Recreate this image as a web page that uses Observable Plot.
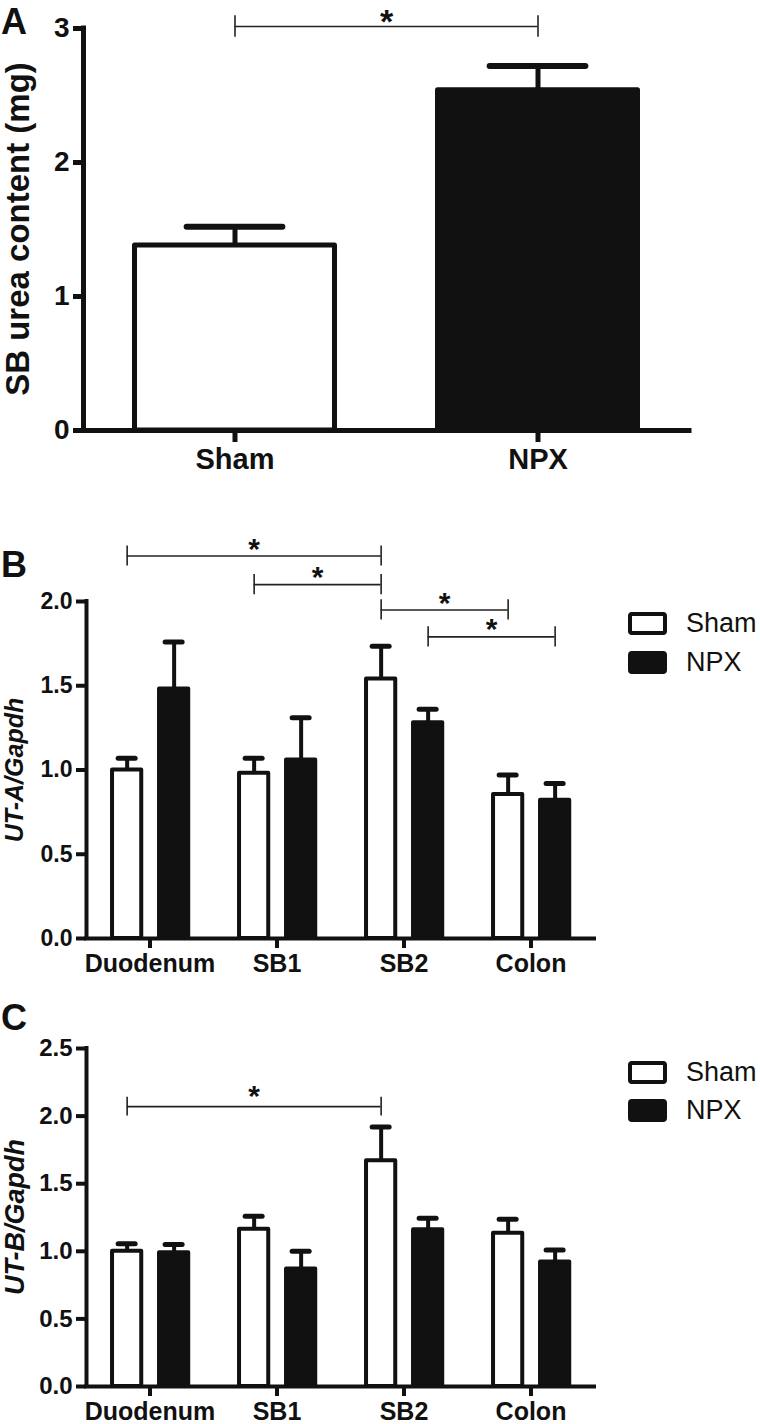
<!DOCTYPE html>
<html>
<head>
<meta charset="utf-8">
<script src="https://cdn.jsdelivr.net/npm/d3@7"></script>
<script src="https://cdn.jsdelivr.net/npm/@observablehq/plot@0.6"></script>
<style>
  body { margin: 0; background: #fff; }
  #fig { position: relative; width: 760px; height: 1424px; overflow: hidden;
         font-family: "Liberation Sans", Arial, sans-serif; color: #111; background: #fff; }
  .panel { position: absolute; left: 0; width: 760px; }
  .letter { position: absolute; left: 1px; font-size: 36px; font-weight: bold; line-height: 1.1; }
  .ylab { position: absolute; font-weight: bold; line-height: 1; white-space: nowrap;
          transform: translate(-50%, -50%) rotate(-90deg); }
  .legend { position: absolute; font-size: 27px; line-height: 1; font-weight: normal; }
  .legend .row { display: flex; align-items: center; gap: 19px; height: 23px; }
  .sw { box-sizing: border-box; width: 39px; height: 23px; border: 4px solid #111; border-radius: 4px; }
</style>
</head>
<body>
<div id="fig">
  <div class="panel" id="pA" style="top:0px"></div>
  <div class="panel" id="pB" style="top:500px"></div>
  <div class="panel" id="pC" style="top:980px"></div>

  <div class="letter" style="top:2px">A</div>
  <div class="letter" style="top:545px">B</div>
  <div class="letter" style="top:998px">C</div>

  <div class="ylab" style="left:17px; top:229px; font-size:33px;">SB urea content (mg)</div>
  <div class="ylab" style="left:14px; top:770px; font-size:25px; font-style:italic;">UT-A/Gapdh</div>
  <div class="ylab" style="left:15px; top:1217px; font-size:27px; font-style:italic;">UT-B/Gapdh</div>

  <div class="legend" id="legB" style="left:628px; top:612px;"></div>
  <div class="legend" id="legC" style="left:628px; top:1061px;"></div>
</div>

<script>
// ---------------- DATA ----------------
// Panel A: SB urea content (mg)
const groupsA = ["Sham", "NPX"];
const ureaMean = [1.38, 2.54];
const ureaErr = [0.14, 0.18];
const yTicksA = [0, 1, 2, 3];
const sigAFrom = ["Sham"];
const sigATo = ["NPX"];
const sigALevel = [3.015];

// Panels B & C: regions x groups
const regions = ["Duodenum", "SB1", "SB2", "Colon"];
const groups = ["Sham", "NPX"];

// B: UT-A/Gapdh
const utaSham = [1.00, 0.98, 1.54, 0.855];
const utaShamErr = [0.07, 0.09, 0.195, 0.115];
const utaNpx = [1.48, 1.06, 1.28, 0.82];
const utaNpxErr = [0.28, 0.25, 0.08, 0.10];
const yTicksB = [0, 0.5, 1.0, 1.5, 2.0];
const utaSigFrom = [["Duodenum", "Sham"], ["SB1", "Sham"], ["SB2", "Sham"], ["SB2", "NPX"]];
const utaSigTo = [["SB2", "Sham"], ["SB2", "Sham"], ["Colon", "Sham"], ["Colon", "NPX"]];
const utaSigLevel = [2.27, 2.10, 1.95, 1.79];

// C: UT-B/Gapdh
const utbSham = [1.00, 1.163, 1.67, 1.134];
const utbShamErr = [0.055, 0.097, 0.25, 0.103];
const utbNpx = [0.99, 0.87, 1.16, 0.92];
const utbNpxErr = [0.06, 0.13, 0.085, 0.09];
const yTicksC = [0, 0.5, 1.0, 1.5, 2.0, 2.5];
const utbSigFrom = [["Duodenum", "Sham"]];
const utbSigTo = [["SB2", "Sham"]];
const utbSigLevel = [2.07];

// ---------------- BUILD ----------------
const FONT = '"Liberation Sans", Arial, sans-serif';
const INK = "#111";
const groupOffset = {Sham: -0.18, NPX: 0.19};

function pos(region, group) { return regions.indexOf(region) + groupOffset[group]; }

function rowsFor(sham, shamErr, npx, npxErr) {
  return regions.flatMap((r, i) => [
    {region: r, group: "Sham", x: pos(r, "Sham"), value: sham[i], err: shamErr[i]},
    {region: r, group: "NPX", x: pos(r, "NPX"), value: npx[i], err: npxErr[i]}
  ]);
}
function sigFor(from, to, level) {
  return level.map((l, i) => {
    const x1 = pos(...from[i]), x2 = pos(...to[i]);
    return {x1, x2, mid: (x1 + x2) / 2, level: l};
  });
}

function panel(cfg) {
  const {rows, sig, cats, xDomain, yDomain, yTicks, yFormat, xTicks,
         hw, capHalf, sw, capW, axisW, tickHalf, starSize, starDy,
         yFont, xFont, yPad, xPad, xTickSize, brW, layout} = cfg;
  return Plot.plot({
    width: 760,
    ...layout,
    style: {fontFamily: FONT, fontWeight: "bold", color: INK, background: "transparent", overflow: "visible"},
    x: {domain: xDomain},
    y: {domain: yDomain},
    color: {domain: groups, range: ["#ffffff", INK]},
    marks: [
      Plot.rect(rows, {x1: d => d.x - hw, x2: d => d.x + hw, y1: () => 0, y2: "value",
        fill: "group", stroke: INK, strokeWidth: sw, strokeLinejoin: "round"}),
      Plot.ruleX(rows, {x: "x", y1: "value", y2: d => d.value + d.err, stroke: INK, strokeWidth: sw}),
      Plot.ruleY(rows, {y: d => d.value + d.err, x1: d => d.x - capHalf, x2: d => d.x + capHalf,
        stroke: INK, strokeWidth: capW, strokeLinecap: "round"}),
      Plot.ruleY([yDomain[0]], {stroke: INK, strokeWidth: axisW, strokeLinecap: "square"}),
      Plot.ruleX([xDomain[0]], {stroke: INK, strokeWidth: axisW, strokeLinecap: "square"}),
      Plot.axisY({ticks: yTicks, tickFormat: yFormat, tickSize: 10, tickPadding: yPad,
        fontSize: yFont, strokeWidth: axisW, label: null}),
      Plot.axisX({ticks: xTicks, tickFormat: d => cats[d], tickSize: xTickSize, tickPadding: xPad,
        fontSize: xFont, strokeWidth: axisW, label: null}),
      Plot.ruleY(sig, {y: "level", x1: "x1", x2: "x2", stroke: "#222", strokeWidth: brW}),
      Plot.ruleX(sig, {x: "x1", y1: d => d.level - tickHalf, y2: d => d.level + tickHalf, stroke: "#222", strokeWidth: brW}),
      Plot.ruleX(sig, {x: "x2", y1: d => d.level - tickHalf, y2: d => d.level + tickHalf, stroke: "#222", strokeWidth: brW}),
      Plot.text(sig, {x: "mid", y: "level", text: () => "*", fontSize: starSize, dy: starDy, fill: INK})
    ]
  });
}

// Panel A
const rowsA = groupsA.map((g, i) => ({group: g, x: i, value: ureaMean[i], err: ureaErr[i]}));
const sigA = sigALevel.map((l, i) => {
  const x1 = groupsA.indexOf(sigAFrom[i]), x2 = groupsA.indexOf(sigATo[i]);
  return {x1, x2, mid: (x1 + x2) / 2, level: l};
});
document.getElementById("pA").append(panel({
  rows: rowsA, sig: sigA, cats: groupsA,
  xDomain: [-0.5, 1.5], yDomain: [0, 3], yTicks: yTicksA, yFormat: d3.format("d"),
  xTicks: [0, 1], hw: 0.33, capHalf: 0.158, sw: 5, capW: 6, axisW: 5, tickHalf: 0.08,
  starSize: 34, starDy: -4, yFont: 28, xFont: 29, yPad: 4, xPad: 6, xTickSize: 12, brW: 1.6,
  layout: {height: 480, marginLeft: 83, marginRight: 71, marginTop: 28, marginBottom: 50}
}));

// Panel B
document.getElementById("pB").append(panel({
  rows: rowsFor(utaSham, utaShamErr, utaNpx, utaNpxErr),
  sig: sigFor(utaSigFrom, utaSigTo, utaSigLevel), cats: regions,
  xDomain: [-0.5, 3.5], yDomain: [0, 2], yTicks: yTicksB, yFormat: d3.format(".1f"),
  xTicks: [0, 1, 2, 3], hw: 0.115, capHalf: 0.067, sw: 4, capW: 5, axisW: 4, tickHalf: 0.06,
  starSize: 30, starDy: -7, yFont: 23, xFont: 25, yPad: 4, xPad: 6, xTickSize: 10, brW: 1.6,
  layout: {height: 480, marginLeft: 86, marginRight: 166, marginTop: 101, marginBottom: 42}
}));

// Panel C
document.getElementById("pC").append(panel({
  rows: rowsFor(utbSham, utbShamErr, utbNpx, utbNpxErr),
  sig: sigFor(utbSigFrom, utbSigTo, utbSigLevel), cats: regions,
  xDomain: [-0.5, 3.5], yDomain: [0, 2.5], yTicks: yTicksC, yFormat: d3.format(".1f"),
  xTicks: [0, 1, 2, 3], hw: 0.115, capHalf: 0.067, sw: 4, capW: 5, axisW: 4, tickHalf: 0.07,
  starSize: 30, starDy: -10, yFont: 24, xFont: 25, yPad: 4, xPad: 6, xTickSize: 10, brW: 1.6,
  layout: {height: 444, marginLeft: 86, marginRight: 166, marginTop: 68, marginBottom: 38}
}));

// Legends
function legend(el, gap) {
  groups.forEach((g, i) => {
    const row = document.createElement("div");
    row.className = "row";
    if (i > 0) row.style.marginTop = gap + "px";
    const sw = document.createElement("div");
    sw.className = "sw";
    sw.style.background = g === "Sham" ? "#fff" : INK;
    const t = document.createElement("span");
    t.textContent = g;
    row.append(sw, t);
    el.append(row);
  });
}
legend(document.getElementById("legB"), 16);
legend(document.getElementById("legC"), 15);
</script>
</body>
</html>
